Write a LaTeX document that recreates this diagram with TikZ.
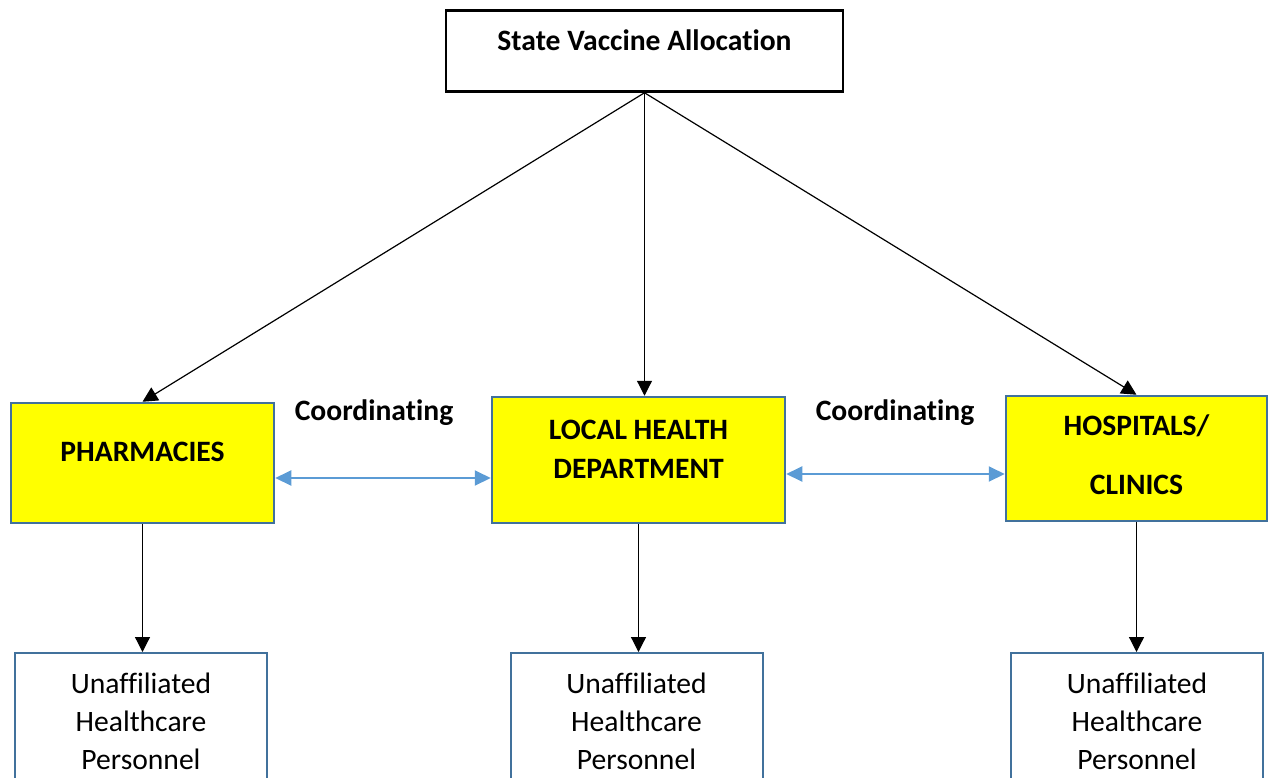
\documentclass[tikz,border=0pt]{standalone}
\usepackage{fontspec}
\setmainfont{Carlito}[Ligatures=CommonOff]
\usetikzlibrary{arrows.meta,positioning}

\definecolor{boxblue}{HTML}{41719C}
\definecolor{linkblue}{HTML}{5B9BD5}
\definecolor{alloyellow}{HTML}{FFFF00}

\tikzset{
  topbox/.style={draw=black, line width=2.5pt, minimum width=397pt, inner ysep=0pt,
    text height=40pt, text depth=41pt, font=\fontsize{29.6}{38}\selectfont\bfseries},
  yellowbox/.style={draw=boxblue, fill=alloyellow, line width=2.5pt, inner ysep=0pt,
    align=center, font=\fontsize{29.6}{38}\selectfont\bfseries},
  staffbox/.style={draw=boxblue, fill=white, line width=2pt, inner ysep=0pt,
    minimum width=252pt, text height=116pt, text depth=44pt,
    align=center, font=\fontsize{29.6}{38}\selectfont},
  feedarrow/.style={-{Triangle[length=15pt,width=15pt]}, line width=1.2pt, black},
  coordarrow/.style={{Triangle[length=16pt,width=15pt]}-{Triangle[length=16pt,width=15pt]},
    line width=2pt, linkblue},
  coordlabel/.style={font=\fontsize{29.6}{38}\selectfont\bfseries}
}

\begin{document}
\begin{tikzpicture}[x=1pt, y=-1pt]
  \useasboundingbox (0,0) rectangle (1269,777);
  \clip (0,0) rectangle (1269,777);
  % state level
  \node[topbox] (state) at (644.5,51) {State Vaccine Allocation};
  % distribution partners
  \node[yellowbox, minimum width=263pt, text height=58pt, text depth=62pt] (pharm) at (142.5,463) {PHARMACIES};
  \node[yellowbox, minimum width=293pt, text height=81pt, text depth=45pt] (lhd) at (638.5,460) {LOCAL HEALTH\\[1pt]DEPARTMENT};
  \node[yellowbox, minimum width=261pt, text height=98pt, text depth=27pt] (hosp) at (1136.5,458.5) {HOSPITALS/\\[21pt]CLINICS};
  % staff to vaccinate
  \node[staffbox] (staffa) at (141,733) {Unaffiliated\\Healthcare\\Personnel};
  \node[staffbox] (staffb) at (636.5,733) {Unaffiliated\\Healthcare\\Personnel};
  \node[staffbox] (staffc) at (1137,733) {Unaffiliated\\Healthcare\\Personnel};
  % coordination labels
  \node[coordlabel] (coorda) at (374,413) {Coordinating};
  \node[coordlabel] (coordb) at (895,413) {Coordinating};
  % allocation arrows
  \draw[feedarrow] (state.south) -- (pharm.north);
  \draw[feedarrow] (state.south) -- (state.south |- lhd.north);
  \draw[feedarrow] (state.south) -- (hosp.north);
  % down to personnel
  \draw[feedarrow] (pharm.south) -- (pharm.south |- staffa.north);
  \draw[feedarrow] (lhd.south) -- (lhd.south |- staffb.north);
  \draw[feedarrow] (hosp.south) -- (hosp.south |- staffc.north);
  % coordinating links
  \draw[coordarrow] ([yshift=-15pt]pharm.east) -- ([yshift=-15pt]pharm.east -| lhd.west);
  \draw[coordarrow] ([yshift=-14pt]lhd.east) -- ([yshift=-14pt]lhd.east -| hosp.west);
\end{tikzpicture}
\end{document}
